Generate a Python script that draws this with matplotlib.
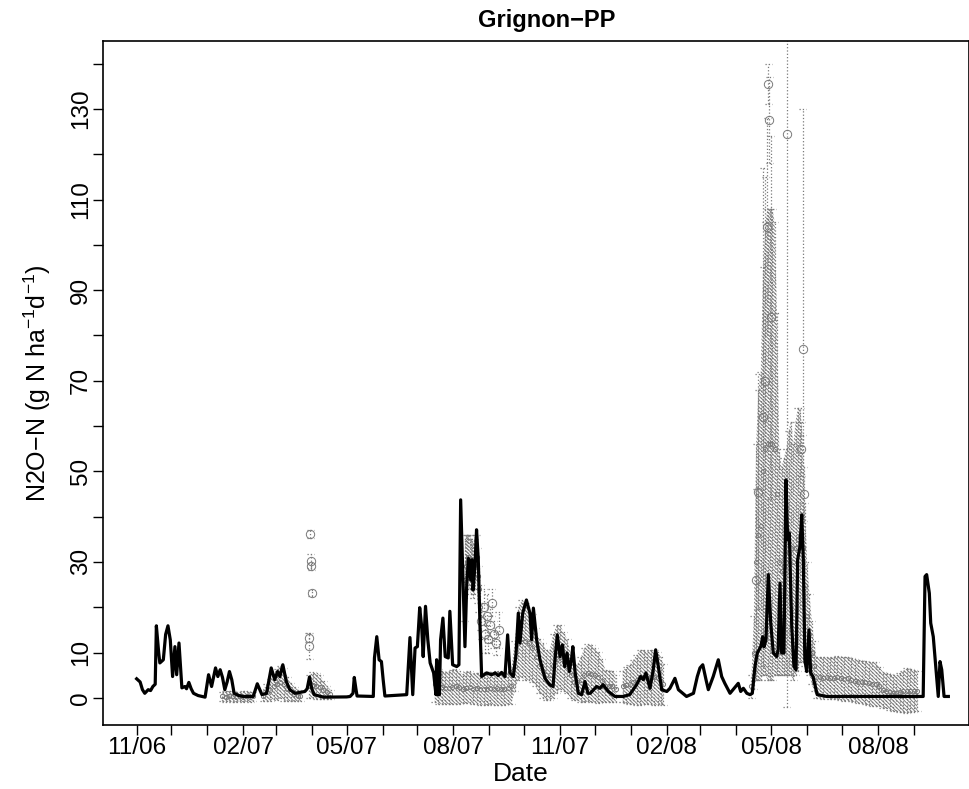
import numpy as np
import matplotlib
matplotlib.use('Agg')
import matplotlib.pyplot as plt

# days counted from 1 Nov 2006
START = np.datetime64('2006-11-01T00:00')

# simulated N2O flux (black line)
model_day = [0, 3, 5, 7, 10, 12, 14, 16, 17, 19, 20, 23, 25, 27, 29, 31, 33, 34.5, 36.5, 39, 41.6, 43, 45, 47, 49, 53,
             59, 62, 64.6, 68, 70, 72, 74, 76, 78, 80, 82, 84, 88, 92, 100.5, 104, 108, 112, 116, 119, 121.5, 123.5,
             126, 129, 132, 136.5, 141, 145, 147, 149, 151, 153, 161, 181, 184, 186.5, 187.6, 189, 190, 204, 205,
             207, 209, 211, 212.5, 214, 232.8, 235.6, 238, 240, 242, 244, 245.7, 247, 249, 251, 253, 256, 258,
             258.6, 259.5, 261, 262, 264, 266, 268.6, 270, 272.4, 275.9, 277.8, 279.3, 281, 283, 284.5, 286, 288,
             289, 290, 291.6, 293, 294.5, 296, 297.4, 301.7, 306, 309, 311.7, 314.6, 317.5, 319.8, 321.8, 324.7,
             327, 329, 330.4, 332.8, 336, 339, 340.5, 342, 344.8, 347.7, 352, 356, 359, 360.6, 362.6, 365, 367,
             369, 371, 373, 375, 376, 378, 380.7, 383.6, 386.5, 389, 391, 396.5, 399.4, 402, 406.6, 412.3, 419.5,
             425, 431, 434.5, 436.7, 439, 442.5, 445.3, 447.4, 449.7, 452.6, 457, 459.7, 464, 467, 474, 480, 483.3,
             485.6, 488, 490.8, 492.8, 497, 501.4, 504.3, 507, 511.5, 515, 518.6, 520.7, 523, 526, 528.7, 530.7,
             533, 535, 538, 539.7, 540.8, 542.5, 544.5, 546.6, 548.8, 551.7, 553, 554.6, 556, 558, 559.7, 561.2,
             562.6, 564.7, 566.6, 568.4, 569.8, 571.8, 573.3, 574.7, 576, 577.6, 579.6, 581, 583, 586.7, 594.8,
             678, 679.6, 681, 683.3, 684.5, 686.7, 689.6, 691, 692.5, 694, 696, 699.7]
model_val = [4.2, 3.5, 1.8, 1.0, 1.8, 1.6, 2.5, 3.0, 15.9, 10.0, 7.7, 8.4, 14.0, 15.9, 12.8, 4.7, 11.3, 5.1, 12.1, 2.2,
             2.5, 2.0, 3.4, 2.0, 1.0, 0.5, 0.15, 5.1, 2.5, 6.6, 4.7, 6.2, 4.5, 1.8, 3.5, 5.8, 4.0, 1.0, 0.5, 0.3, 0.3,
             3.1, 0.7, 1.0, 6.6, 4.0, 5.8, 4.7, 7.3, 3.6, 1.8, 1.0, 1.2, 1.4, 2.0, 4.6, 2.0, 0.7, 0.15, 0.2, 0.3, 1.0,
             4.5, 2.0, 0.4, 0.3, 8.8, 13.5, 8.4, 8.0, 4.0, 0.4, 0.7, 13.3, 0.7, 11.0, 11.3, 19.9, 15.7, 9.1, 20.2,
             12.8, 7.7, 5.5, 0.7, 8.4, 0.7, 0.7, 12.8, 17.6, 9.1, 8.8, 19.1, 7.3, 6.9, 7.3, 43.7, 29.0, 11.3, 24.6,
             30.8, 26.0, 30.5, 23.8, 29.0, 37.1, 30.5, 15.7, 4.7, 5.5, 5.1, 5.5, 4.9, 5.6, 4.7, 13.9, 5.5, 4.7, 9.5,
             18.7, 12.1, 18.7, 21.6, 18.7, 12.8, 19.8, 12.8, 8.4, 4.3, 2.9, 2.5, 8.4, 13.9, 9.1, 11.7, 6.9, 9.9, 5.8,
             8.8, 11.3, 5.5, 1.0, 0.7, 3.6, 1.0, 1.0, 2.5, 2.1, 2.9, 1.4, 0.3, 0.3, 0.7, 2.9, 4.7, 4.0, 5.5, 2.1, 6.2,
             10.6, 6.9, 1.8, 1.4, 2.1, 4.3, 1.8, 0.3, 1.0, 4.7, 6.6, 7.3, 4.0, 1.8, 4.7, 8.4, 4.7, 3.2, 1.0, 2.1, 3.2,
             1.4, 2.1, 1.0, 0.7, 1.0, 6.9, 9.9, 11.3, 13.5, 11.3, 12.8, 27.2, 16.5, 9.9, 9.1, 10.6, 25.3, 9.9, 9.9,
             48.1, 34.9, 36.4, 15.7, 6.9, 6.2, 30.5, 33.4, 40.4, 30.5, 8.4, 5.8, 15.0, 5.5, 4.7, 0.7, 0.3, 0.3, 26.8,
             27.2, 23.1, 16.5, 13.5, 4.7, 0.3, 8.0, 6.2, 0.3, 0.3]

# measured fluxes forming continuous bands (mean and sd)
obs_day = [74, 77, 80, 83, 86, 89, 92, 95, 98, 100,
           109, 112, 115, 118, 121, 124, 127, 130, 133, 136, 139, 141,
           149, 152, 155, 158, 161, 164, 167,
           257, 260, 263, 266, 269, 272, 275, 278, 281, 284, 287, 290, 293, 296, 299, 302, 305, 308, 311, 314, 317,
           320, 323, 326, 329, 332, 335, 338, 341, 344, 347, 350, 353, 356, 359, 362, 365, 368, 371, 374, 377, 380,
           383, 386, 389, 392, 395, 398, 401, 404, 407, 410, 413,
           419, 422, 425, 428, 431, 434, 437, 440, 443, 446, 449, 452, 454,
           530, 532, 534, 536, 538, 540, 542, 544, 546, 548, 550, 552, 554, 556, 558, 560, 562, 564, 566, 568, 570,
           572, 574, 576, 578, 580, 582, 584, 586, 589, 592, 595, 598, 601, 604, 607, 610, 613, 616, 619, 622, 625,
           628, 631, 634, 637, 640, 643, 646, 649, 652, 655, 658, 661, 664, 667, 670, 673]
obs_val = [0.3, 0.2, 0.4, 0.3, 0.2, 0.3, 0.2, 0.3, 0.2, 0.3,
           0.5, 1.2, 1.8, 2.5, 3.0, 3.5, 3.0, 2.0, 1.2, 0.8, 0.5, 0.4,
           2.5, 2.8, 2.6, 2.4, 1.8, 1.2, 0.8,
           3.0, 2.5, 2.3, 2.2, 2.2, 2.4, 2.5, 2.3, 2.0, 2.2, 2.4, 2.0, 2.1, 2.0, 2.0, 2.0, 2.2, 2.0, 2.2, 2.0, 2.0,
           2.2, 2.5, 7.0, 12.0, 13.0, 12.5, 12.0, 11.0, 9.0, 7.0, 6.0, 5.0, 5.0, 7.0, 8.5, 9.0, 8.0, 7.0, 5.0, 3.5,
           3.5, 4.0, 5.0, 5.5, 5.3, 5.0, 4.5, 3.8, 2.6, 2.5, 2.5, 2.0,
           2.5, 2.8, 3.0, 3.5, 4.0, 4.5, 4.6, 4.4, 4.6, 4.5, 4.3, 3.8, 3.0,
           2.5, 10.0, 30.0, 36.0, 38.0, 50.0, 55.0, 56.0, 56.0, 56.0, 55.0, 45.0, 30.0, 28.0, 29.0, 30.0, 32.0,
           33.0, 30.0, 33.0, 35.0, 36.0, 33.0, 25.0, 18.0, 14.0, 10.0, 7.0, 4.5, 4.5, 4.4, 4.6, 4.3, 4.4, 4.5, 4.3,
           4.2, 4.3, 4.0, 3.8, 3.6, 3.5, 3.4, 3.2, 3.0, 3.0, 2.5, 1.8, 1.6, 1.3, 1.1, 1.0, 1.2, 1.4, 1.6, 1.6, 1.5,
           1.5]
obs_sd = [1.0, 1.2, 1.1, 1.2, 1.1, 1.0, 1.2, 1.1, 1.1, 1.0,
          1.3, 1.8, 2.4, 2.8, 3.4, 3.6, 3.6, 2.6, 2.0, 1.6, 1.3, 1.2,
          2.5, 2.8, 2.8, 2.6, 2.0, 1.4, 1.0,
          4.0, 3.8, 3.6, 3.5, 3.6, 3.8, 3.8, 3.6, 3.2, 3.4, 3.5, 3.3, 3.4, 3.5, 3.5, 3.6, 3.6, 3.5, 3.7, 3.6, 3.5,
          3.6, 3.8, 5.5, 8.0, 8.5, 8.5, 8.0, 7.5, 6.5, 6.0, 6.0, 5.5, 5.5, 7.0, 7.5, 7.0, 6.5, 6.0, 5.0, 4.0, 4.0,
          5.0, 6.0, 6.3, 6.3, 6.0, 5.7, 4.8, 3.6, 3.5, 3.5, 3.0,
          3.5, 4.0, 4.3, 4.8, 5.5, 6.0, 6.0, 5.8, 6.0, 6.0, 5.8, 5.2, 4.5,
          2.5, 8.0, 26.0, 32.0, 34.0, 45.0, 50.0, 52.0, 52.0, 52.0, 50.0, 40.0, 25.0, 23.0, 24.0, 25.0, 27.0,
          28.0, 26.0, 28.0, 29.0, 28.0, 25.0, 18.0, 12.0, 9.0, 7.0, 5.5, 4.5, 4.5, 4.6, 4.4, 4.6, 4.6, 4.7, 4.8,
          4.8, 4.8, 4.8, 4.7, 4.7, 4.7, 4.8, 4.8, 4.8, 4.8, 4.4, 4.0, 3.9, 3.9, 4.0, 4.0, 4.3, 4.6, 4.9, 4.8, 4.6,
          4.5]

# second band of high values, August 2007
high_day = [283, 284, 285, 286, 287, 288, 289, 290, 291, 292, 293, 294, 295, 296]
high_val = [26, 29, 30, 31, 30, 29, 30, 28, 29, 30, 31, 27, 24, 20]
high_sd = [9, 7, 6, 5, 6, 6, 5, 6, 6, 6, 5, 6, 5, 5]

# isolated measurements
pt_day = [148.5, 149, 149.5, 150, 150.5, 151,
          297, 299, 300, 302, 303, 305, 306, 308, 310, 312,
          534, 536, 540, 542, 543.5, 544.5, 545.5, 546.5, 560.5, 573, 574, 575]
pt_val = [13.3, 11.4, 36.2, 30.2, 29.0, 23.1,
          17, 20, 14, 18, 13, 16, 21, 14, 12, 15,
          26, 45.5, 62, 70, 104, 135.5, 127.5, 84, 124.5, 55, 77, 45]
pt_sd = [1.0, 2.8, 0.9, 1.6, 0.8, 0.7,
         4, 4, 4, 5, 3, 4, 3, 3, 2.5, 4,
         20, 26, 55, 45, 24, 4.5, 9.5, 40, 126.5, 6, 53, 6]

y_ticks = [0, 10, 20, 30, 40, 50, 60, 70, 80, 90, 100, 110, 120, 130, 140]
y_labels = ['0', '10', '', '30', '', '50', '', '70', '', '90', '', '110', '', '130', '']

GREY = '#7a7a7a'


def to_dates(days):
    minutes = np.round(np.array(days, dtype=float) * 1440).astype(np.int64)
    return START + minutes.astype('timedelta64[m]')


def draw_points(ax, days, vals, sds, size):
    days = np.array(days, dtype=float)
    vals = np.array(vals, dtype=float)
    sds = np.array(sds, dtype=float)
    d = to_dates(days)
    ax.vlines(d, vals - sds, vals + sds, colors=GREY, linestyles=':', linewidth=0.9, zorder=2)
    for y in (vals - sds, vals + sds):
        ax.hlines(y, to_dates(days - 3), to_dates(days + 3), colors=GREY, linestyles=':', linewidth=0.9, zorder=2)
    ax.plot(d, vals, 'o', mfc='none', mec=GREY, mew=0.7, ms=size, zorder=2)


def draw_band(ax, days, vals, sds):
    days = np.array(days, dtype=float)
    vals = np.array(vals, dtype=float)
    sds = np.array(sds, dtype=float)
    breaks = np.where(np.diff(days) > 4)[0] + 1
    for idx in np.split(np.arange(len(days)), breaks):
        ax.fill_between(to_dates(days[idx]), vals[idx] - sds[idx], vals[idx] + sds[idx],
                        facecolor='none', edgecolor=GREY, hatch='\\' * 9, linewidth=0, zorder=1)
    draw_points(ax, days, vals, sds, 3)


plt.rcParams['font.family'] = ['Liberation Sans', 'DejaVu Sans']
plt.rcParams['mathtext.default'] = 'regular'
plt.rcParams['hatch.linewidth'] = 0.7
plt.rcParams['hatch.color'] = GREY

fig = plt.figure(figsize=(9.7, 7.89), dpi=100)
ax = fig.add_axes([103 / 970, 1 - 725 / 789, 866 / 970, 684 / 789])

draw_band(ax, obs_day, obs_val, obs_sd)
draw_band(ax, high_day, high_val, high_sd)
draw_points(ax, pt_day, pt_val, pt_sd, 6)
ax.plot(to_dates(model_day), model_val, color='black', linewidth=2.3, zorder=3)

months = np.arange(np.datetime64('2006-11'), np.datetime64('2008-10'))
month_labels = [str(m)[5:7] + '/' + str(m)[2:4] if int(str(m)[5:7]) % 3 == 2 else '' for m in months]
ax.set_xticks(months.astype('datetime64[D]'))
ax.set_xticklabels(month_labels)
ax.set_xlim(to_dates([-29, 717.5]))

ax.set_yticks(y_ticks)
ax.set_yticklabels(y_labels, rotation=90, va='center')
ax.set_ylim(-6, 145)

ax.tick_params(direction='out', length=7, width=1, labelsize=17.5, pad=2)
ax.tick_params(axis='y', pad=1)
for s in ax.spines.values():
    s.set_linewidth(1.2)

ax.set_title('Grignon\u2212PP', fontsize=17, fontweight='bold', pad=10)
ax.title.set_position(((547 - 103) / 866, 1.0))
ax.set_xlabel('Date', fontsize=19)
ax.xaxis.set_label_coords((521 - 103) / 866, -0.054)
ax.set_ylabel('N2O\u2212N (g N ha$^{\u22121}$d$^{\u22121}$)', fontsize=18)
ax.yaxis.set_label_coords(-0.058, 0.5)

fig.savefig('out.png', dpi=100)
